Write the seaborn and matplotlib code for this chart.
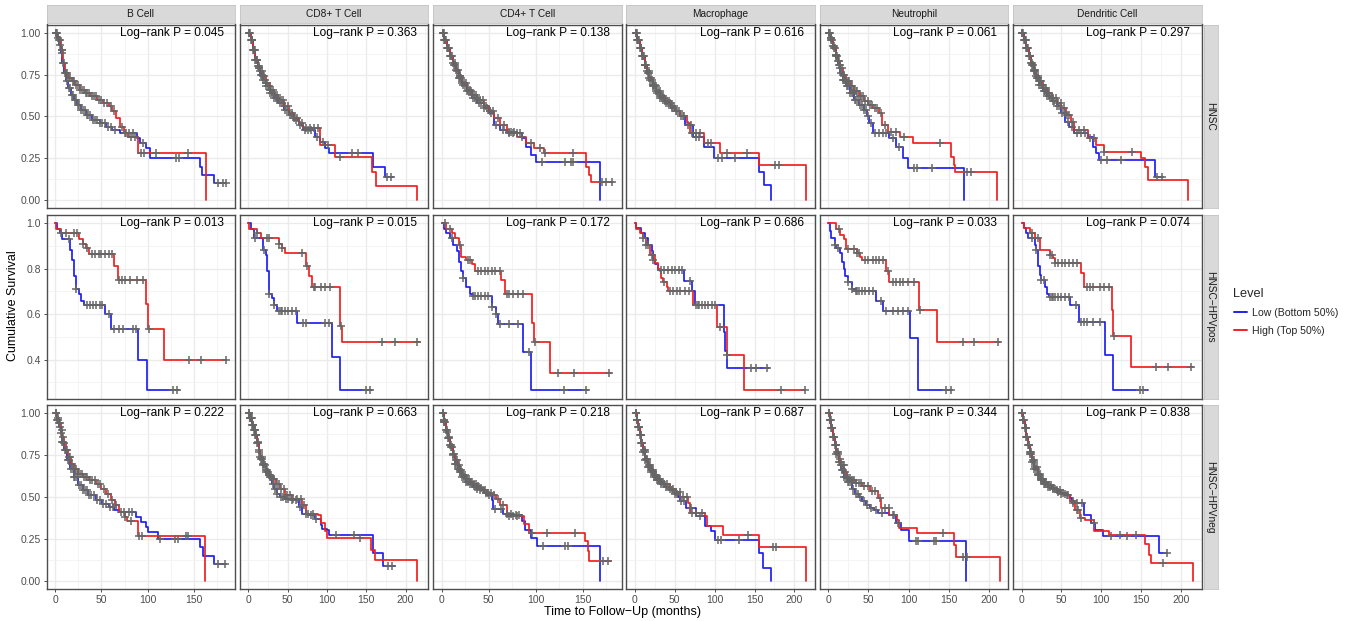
import numpy as np
import pandas as pd
import matplotlib
matplotlib.use("Agg")
import matplotlib.pyplot as plt
from matplotlib.lines import Line2D
import seaborn as sns

# ---------------------------------------------------------------------------
# Facet labels, groups and log-rank p-values
# ---------------------------------------------------------------------------
COHORTS = ["HNSC", "HNSC\u2212HPVpos", "HNSC\u2212HPVneg"]
CELL_TYPES = ["B Cell", "CD8+ T Cell", "CD4+ T Cell", "Macrophage", "Neutrophil", "Dendritic Cell"]
LEVELS = ["Low (Bottom 50%)", "High (Top 50%)"]

P_HNSC = [0.045, 0.363, 0.138, 0.616, 0.061, 0.297]
P_HPVPOS = [0.013, 0.015, 0.172, 0.686, 0.033, 0.074]
P_HPVNEG = [0.222, 0.663, 0.218, 0.687, 0.344, 0.838]

# ---------------------------------------------------------------------------
# Kaplan-Meier step curves: *_T = event times (months), *_S = survival after
# each time, *_C = censoring times
# ---------------------------------------------------------------------------
# ---- HNSC ----
B_HNSC_LOW_T = [0, 2, 4, 6, 8, 10, 12, 14, 17, 20, 24, 28, 33, 40, 48, 55, 62, 70, 88, 92, 98, 103, 156, 159, 172, 185]
B_HNSC_LOW_S = [1.0, .97, .93, .88, .82, .76, .71, .67, .63, .60, .57, .54, .51, .48, .46, .44, .42, .40, .37, .34, .31, .25, .20, .15, .10, .10]
B_HNSC_LOW_C = [1, 3, 5, 7, 9, 11, 13, 15, 16, 18, 19, 21, 23, 25, 26, 28, 30, 32, 34, 36, 38, 41, 43, 45, 48, 51, 54, 57, 60, 65, 75, 80, 84, 95, 131, 134, 176, 181, 184]
B_HNSC_HIGH_T = [0, 3, 6, 9, 11, 14, 18, 22, 27, 32, 38, 45, 52, 58, 62, 66, 70, 74, 79, 89, 162.6]
B_HNSC_HIGH_S = [1.0, .96, .90, .82, .76, .73, .71, .69, .66, .64, .62, .60, .58, .56, .53, .49, .44, .40, .38, .28, 0.0]
B_HNSC_HIGH_C = [1, 2, 4, 5, 7, 8, 10, 12, 13, 15, 16, 19, 20, 23, 25, 27, 29, 31, 33, 35, 37, 40, 42, 44, 47, 50, 53, 56, 60, 64, 72, 77, 82, 86, 93, 96, 109, 143]

CD8_HNSC_LOW_T = [0, 3, 6, 9, 12, 15, 18, 22, 27, 32, 38, 45, 52, 58, 64, 70, 85, 91, 98, 103, 159, 174, 184]
CD8_HNSC_LOW_S = [1.0, .96, .90, .84, .79, .75, .72, .68, .64, .61, .58, .54, .51, .48, .45, .42, .38, .35, .31, .28, .20, .14, .14]
CD8_HNSC_LOW_C = [1, 2, 4, 5, 7, 8, 10, 11, 13, 14, 16, 17, 19, 21, 23, 25, 26, 28, 30, 33, 35, 37, 40, 43, 46, 49, 53, 56, 60, 66, 72, 76, 80, 87, 95, 132, 140, 176, 181]
CD8_HNSC_HIGH_T = [0, 3, 6, 9, 12, 15, 18, 22, 27, 32, 38, 45, 52, 58, 64, 70, 91, 110, 157, 162, 215]
CD8_HNSC_HIGH_S = [1.0, .96, .90, .84, .80, .77, .74, .70, .66, .63, .60, .56, .52, .49, .46, .43, .33, .26, .17, .085, 0.0]
CD8_HNSC_HIGH_C = [1, 3, 4, 6, 7, 9, 11, 12, 14, 15, 17, 18, 20, 22, 24, 27, 29, 31, 34, 36, 39, 42, 44, 47, 50, 55, 58, 62, 68, 73, 78, 83, 88, 101, 116]

CD4_HNSC_LOW_T = [0, 3, 6, 9, 12, 15, 18, 22, 27, 32, 38, 45, 50, 56, 62, 69, 85, 90, 95, 100, 168]
CD4_HNSC_LOW_S = [1.0, .96, .91, .86, .81, .77, .73, .69, .65, .61, .58, .55, .52, .45, .42, .40, .37, .32, .27, .23, 0.0]
CD4_HNSC_LOW_C = [1, 2, 4, 5, 7, 8, 10, 11, 13, 14, 16, 18, 19, 21, 23, 25, 27, 29, 31, 33, 35, 37, 40, 42, 45, 48, 52, 58, 65, 72, 76, 80, 83, 107, 131, 137, 140]
CD4_HNSC_HIGH_T = [0, 3, 6, 9, 12, 15, 18, 22, 27, 32, 38, 45, 50, 56, 62, 69, 80, 90, 98, 109, 153, 156, 159, 182]
CD4_HNSC_HIGH_S = [1.0, .96, .91, .86, .82, .78, .74, .70, .66, .63, .60, .56, .53, .49, .45, .41, .38, .34, .31, .28, .20, .15, .11, .11]
CD4_HNSC_HIGH_C = [1, 3, 4, 6, 7, 9, 10, 12, 14, 15, 17, 19, 20, 22, 24, 26, 28, 30, 32, 34, 36, 39, 41, 44, 47, 51, 55, 60, 66, 71, 74, 77, 85, 95, 104, 110, 139, 170, 175, 181]

MAC_HNSC_LOW_T = [0, 3, 6, 9, 12, 15, 18, 22, 27, 32, 38, 45, 50, 57, 63, 73, 86, 99, 156, 162, 171]
MAC_HNSC_LOW_S = [1.0, .96, .91, .86, .81, .76, .72, .68, .64, .61, .58, .55, .53, .50, .45, .38, .32, .25, .166, .092, 0.0]
MAC_HNSC_LOW_C = [1, 2, 4, 5, 7, 8, 10, 11, 13, 14, 16, 17, 19, 21, 22, 24, 26, 28, 30, 32, 34, 36, 39, 41, 44, 47, 51, 55, 60, 67, 70, 76, 80, 104, 109, 125]
MAC_HNSC_HIGH_T = [0, 3, 6, 9, 12, 15, 18, 22, 27, 32, 38, 45, 50, 57, 65, 69, 86, 107, 155, 215]
MAC_HNSC_HIGH_S = [1.0, .96, .91, .86, .81, .77, .73, .69, .65, .62, .59, .56, .53, .50, .46, .40, .34, .28, .21, 0.0]
MAC_HNSC_HIGH_C = [1, 3, 4, 6, 7, 9, 10, 12, 13, 15, 17, 18, 20, 22, 23, 25, 27, 29, 31, 33, 35, 38, 40, 43, 46, 49, 53, 58, 62, 72, 77, 82, 92, 96, 115, 140, 176, 181]

NEU_HNSC_LOW_T = [0, 3, 6, 9, 12, 15, 18, 22, 27, 32, 38, 44, 48, 51, 55, 76, 84, 93, 99, 169]
NEU_HNSC_LOW_S = [1.0, .96, .91, .86, .81, .76, .72, .68, .64, .60, .57, .54, .50, .46, .40, .37, .32, .25, .19, 0.0]
NEU_HNSC_LOW_C = [1, 2, 4, 5, 7, 8, 10, 11, 13, 14, 16, 18, 19, 21, 23, 25, 27, 29, 31, 33, 35, 37, 40, 42, 45, 47, 50, 53, 58, 63, 68, 72, 80, 88, 106, 110, 129]
NEU_HNSC_HIGH_T = [0, 3, 6, 9, 12, 15, 18, 22, 27, 32, 38, 44, 50, 56, 63, 67, 74, 89, 105, 152, 156, 158, 210]
NEU_HNSC_HIGH_S = [1.0, .97, .92, .87, .83, .79, .75, .71, .68, .65, .62, .59, .57, .55, .52, .45, .41, .38, .34, .26, .21, .17, 0.0]
NEU_HNSC_HIGH_C = [1, 3, 4, 6, 7, 9, 10, 12, 13, 15, 17, 18, 20, 22, 24, 26, 28, 30, 32, 34, 36, 39, 41, 43, 46, 49, 52, 54, 58, 61, 66, 71, 78, 84, 94, 139, 172, 178]

DC_HNSC_LOW_T = [0, 3, 6, 9, 12, 15, 18, 22, 27, 32, 38, 44, 50, 55, 60, 66, 83, 89, 93, 97, 167, 178]
DC_HNSC_LOW_S = [1.0, .96, .91, .86, .81, .77, .73, .69, .65, .62, .59, .56, .52, .47, .44, .40, .38, .32, .28, .24, .14, .14]
DC_HNSC_LOW_C = [1, 2, 4, 5, 7, 8, 10, 11, 13, 14, 16, 17, 19, 21, 22, 24, 26, 28, 30, 32, 34, 36, 39, 41, 44, 47, 51, 54, 58, 63, 70, 75, 80, 100, 107, 125, 170, 176]
DC_HNSC_HIGH_T = [0, 3, 6, 9, 12, 15, 18, 22, 27, 32, 38, 44, 50, 56, 62, 66, 83, 93, 104, 150, 155, 159, 209]
DC_HNSC_HIGH_S = [1.0, .96, .91, .86, .82, .78, .74, .71, .67, .64, .61, .58, .55, .51, .47, .42, .37, .33, .29, .25, .20, .12, 0.0]
DC_HNSC_HIGH_C = [1, 3, 4, 6, 7, 9, 10, 12, 13, 15, 17, 18, 20, 22, 23, 25, 27, 29, 31, 33, 35, 38, 40, 43, 46, 49, 53, 57, 60, 64, 72, 78, 86, 91, 104, 138]

# ---- HNSC-HPVpos ----
B_POS_LOW_T = [0, 2.5, 5, 8, 16, 18, 20.5, 22.5, 26, 28, 31, 54, 60, 90, 99, 134]
B_POS_LOW_S = [1.0, .975, .955, .93, .88, .84, .77, .71, .69, .66, .64, .60, .535, .40, .265, .265]
B_POS_LOW_C = [15, 22.5, 35, 38, 41, 44, 48, 51, 58, 64, 69, 73, 84, 87, 127, 132]
B_POS_HIGH_T = [0, 1, 6, 26, 30, 33, 37, 64, 68, 98, 100, 118, 185]
B_POS_HIGH_S = [1.0, .975, .955, .93, .91, .89, .865, .81, .75, .645, .535, .40, .40]
B_POS_HIGH_C = [6, 11.5, 20.5, 24, 30, 35, 40, 43, 47, 50, 54, 58, 62, 69, 72, 76, 81, 88, 95, 101, 145, 158, 184]

CD8_POS_LOW_T = [0, 3, 7, 18, 22, 24, 26, 30, 32, 37, 62, 106, 117, 157]
CD8_POS_LOW_S = [1.0, .975, .934, .88, .86, .79, .69, .67, .64, .616, .56, .414, .268, .268]
CD8_POS_LOW_C = [9, 20, 26, 32, 39, 41, 43, 47, 51, 55, 60, 70, 73, 98, 102, 150, 155]
CD8_POS_HIGH_T = [0, 1, 11, 16, 39, 43, 47, 73, 77, 81, 117, 119, 218]
CD8_POS_HIGH_S = [1.0, .975, .956, .934, .91, .89, .87, .81, .77, .72, .55, .477, .477]
CD8_POS_HIGH_C = [11, 24, 26, 39, 43, 68, 75, 83, 85, 92, 98, 104, 118, 170, 186, 214]

CD4_POS_LOW_T = [0, 2, 5, 9, 12, 16, 18, 21, 23, 26, 30, 33, 53, 58, 60, 86, 95, 155]
CD4_POS_LOW_S = [1.0, .975, .956, .934, .905, .876, .83, .79, .76, .72, .69, .68, .63, .60, .556, .436, .265, .265]
CD4_POS_LOW_C = [11, 23, 33, 35, 39, 42, 46, 49, 53, 58, 62, 72, 81, 93, 130, 153]
CD4_POS_HIGH_T = [0, 5, 11, 14, 18, 21, 26, 32, 35, 63, 67, 96, 98, 115, 180]
CD4_POS_HIGH_S = [1.0, .975, .956, .934, .905, .85, .84, .82, .79, .75, .69, .56, .477, .341, .341]
CD4_POS_HIGH_C = [4, 9, 19, 28, 30, 39, 42, 46, 49, 53, 57, 62, 69, 72, 76, 81, 86, 99, 124, 141, 178]

MAC_POS_LOW_T = [0, 1, 8, 12, 16, 21, 23, 25, 29, 61, 71, 75, 112, 113, 115, 168]
MAC_POS_LOW_S = [1.0, .98, .956, .934, .905, .876, .84, .82, .795, .745, .70, .641, .52, .44, .363, .363]
MAC_POS_LOW_C = [16, 23, 33, 37, 42, 46, 50, 55, 59, 69, 79, 145, 152, 166]
MAC_POS_HIGH_T = [0, 1, 6, 10, 14, 19, 25, 29, 31, 33, 35, 40, 42, 73, 103, 116, 137, 213]
MAC_POS_HIGH_S = [1.0, .975, .956, .934, .905, .86, .825, .80, .79, .76, .74, .72, .70, .641, .545, .42, .265, .265]
MAC_POS_HIGH_C = [10, 14, 21, 37, 44, 48, 53, 57, 63, 68, 76, 80, 84, 88, 92, 97, 101, 107, 116, 183, 213]

NEU_POS_LOW_T = [0, 2, 4, 8, 10, 15, 17, 19, 21, 25, 30, 34, 59, 68, 101, 112, 154]
NEU_POS_LOW_S = [1.0, .967, .934, .905, .89, .87, .83, .80, .77, .74, .71, .70, .66, .615, .495, .265, .265]
NEU_POS_LOW_C = [8, 12, 25, 30, 34, 36, 38, 42, 46, 51, 55, 65, 72, 80, 87, 93, 99, 146, 152]
NEU_POS_HIGH_T = [0, 10, 15, 19, 22, 36, 40, 42, 72, 76, 113, 135, 213]
NEU_POS_HIGH_S = [1.0, .975, .95, .93, .886, .87, .85, .84, .79, .74, .62, .477, .477]
NEU_POS_HIGH_C = [13, 25, 32, 36, 38, 46, 50, 55, 59, 63, 68, 74, 80, 84, 89, 93, 99, 106, 114, 167, 181, 211]

DC_POS_LOW_T = [0, 3, 5, 8, 17, 18, 20, 21, 23, 25, 30, 32, 34, 61, 72, 105, 115, 158]
DC_POS_LOW_S = [1.0, .978, .956, .934, .905, .883, .846, .81, .773, .75, .72, .69, .674, .64, .565, .419, .268, .268]
DC_POS_LOW_C = [13, 18, 25, 28, 36, 38, 40, 42, 46, 50, 55, 59, 68, 74, 78, 82, 89, 99, 148, 152]
DC_POS_HIGH_T = [0, 3, 11, 17, 23, 36, 40, 42, 74, 78, 113, 115, 137, 215]
DC_POS_HIGH_S = [1.0, .978, .956, .934, .883, .86, .846, .824, .78, .72, .62, .505, .37, .37]
DC_POS_HIGH_C = [13, 21, 36, 38, 42, 46, 51, 55, 59, 65, 70, 82, 86, 90, 99, 103, 110, 116, 169, 184, 213]

# ---- HNSC-HPVneg ----
B_NEG_LOW_T = [0, 2, 4, 6, 8, 10, 13, 16, 20, 25, 30, 36, 44, 51, 58, 64, 69, 87, 93, 98, 100, 111, 156, 160, 172, 185]
B_NEG_LOW_S = [1.0, .96, .92, .88, .83, .78, .72, .67, .62, .57, .54, .51, .48, .46, .44, .42, .41, .38, .35, .32, .29, .25, .20, .15, .10, .10]
B_NEG_LOW_C = [1, 2, 3, 5, 6, 8, 9, 11, 12, 14, 15, 17, 19, 20, 22, 24, 26, 28, 30, 32, 34, 37, 39, 42, 45, 48, 52, 55, 59, 63, 74, 80, 83, 113, 130, 133, 176, 183]
B_NEG_HIGH_T = [0, 2, 4, 6, 8, 10, 12, 14, 17, 20, 25, 30, 37, 44, 50, 55, 60, 65, 69, 75, 78, 90, 162]
B_NEG_HIGH_S = [1.0, .97, .94, .90, .86, .82, .78, .74, .70, .67, .64, .62, .60, .58, .55, .52, .48, .45, .41, .38, .355, .265, 0.0]
B_NEG_HIGH_C = [1, 3, 4, 5, 7, 9, 10, 12, 13, 15, 16, 18, 21, 23, 25, 27, 29, 31, 33, 35, 38, 40, 43, 46, 49, 53, 57, 61, 66, 71, 76, 82, 91, 94, 141, 143]

CD8_NEG_LOW_T = [0, 2, 5, 7, 9, 11, 13, 15, 18, 22, 26, 30, 33, 36, 40, 47, 54, 64, 68, 77, 85, 92, 94, 100, 102, 159, 171, 186]
CD8_NEG_LOW_S = [1.0, .97, .93, .90, .87, .82, .77, .73, .69, .65, .62, .58, .55, .52, .50, .49, .48, .44, .40, .39, .37, .33, .31, .30, .27, .165, .086, .086]
CD8_NEG_LOW_C = [1, 2, 3, 4, 6, 7, 8, 10, 11, 12, 14, 16, 17, 19, 21, 23, 25, 27, 29, 31, 34, 37, 41, 44, 48, 51, 56, 60, 66, 73, 80, 86, 112, 135, 177, 183]
CD8_NEG_HIGH_T = [0, 2, 5, 7, 9, 11, 13, 15, 18, 22, 26, 30, 35, 40, 47, 56, 68, 73, 89, 92, 98, 100, 156, 161, 214]
CD8_NEG_HIGH_S = [1.0, .97, .93, .90, .87, .83, .78, .74, .70, .66, .63, .61, .58, .55, .51, .49, .45, .40, .39, .345, .295, .255, .185, .125, 0.0]
CD8_NEG_HIGH_C = [1, 2, 3, 5, 6, 8, 9, 10, 12, 13, 15, 17, 18, 20, 22, 24, 26, 28, 31, 33, 36, 39, 42, 45, 49, 53, 57, 62, 67, 71, 76, 82, 142]

CD4_NEG_LOW_T = [0, 2, 5, 7, 9, 12, 14, 17, 19, 22, 26, 30, 33, 37, 41, 45, 48, 53, 55, 65, 76, 85, 88, 95, 101, 168]
CD4_NEG_LOW_S = [1.0, .95, .89, .85, .80, .75, .70, .67, .65, .62, .59, .575, .56, .55, .54, .525, .51, .48, .43, .40, .39, .355, .305, .255, .205, 0.0]
CD4_NEG_LOW_C = [1, 2, 3, 4, 6, 7, 8, 10, 11, 12, 14, 15, 17, 18, 20, 22, 24, 26, 28, 30, 32, 35, 38, 41, 44, 47, 50, 57, 63, 69, 74, 79, 82, 108, 131, 134]
CD4_NEG_HIGH_T = [0, 2, 5, 7, 9, 12, 14, 17, 19, 22, 26, 30, 33, 37, 41, 45, 48, 53, 58, 62, 69, 87, 93, 152, 155, 157, 180]
CD4_NEG_HIGH_S = [1.0, .96, .90, .86, .81, .76, .72, .69, .66, .63, .61, .59, .575, .565, .555, .54, .525, .51, .49, .45, .385, .34, .285, .235, .175, .115, .115]
CD4_NEG_HIGH_C = [1, 2, 3, 5, 6, 8, 9, 10, 12, 13, 15, 16, 18, 20, 21, 23, 25, 27, 29, 31, 34, 36, 39, 42, 46, 49, 52, 56, 60, 65, 71, 76, 80, 96, 112, 142, 171, 177]

MAC_NEG_LOW_T = [0, 2, 4, 6, 8, 10, 13, 16, 20, 24, 28, 32, 38, 44, 50, 54, 57, 64, 76, 88, 95, 100, 156, 161, 171]
MAC_NEG_LOW_S = [1.0, .96, .92, .87, .82, .77, .72, .68, .65, .62, .60, .58, .56, .54, .52, .50, .475, .435, .385, .325, .295, .245, .166, .076, 0.0]
MAC_NEG_LOW_C = [1, 2, 3, 5, 6, 7, 9, 10, 12, 13, 15, 16, 18, 20, 22, 24, 26, 28, 30, 33, 36, 39, 42, 46, 50, 53, 58, 62, 70, 82, 104, 108, 130]
MAC_NEG_HIGH_T = [0, 2, 4, 6, 8, 10, 13, 16, 20, 24, 28, 32, 37, 44, 50, 57, 66, 69, 88, 91, 110, 156, 214]
MAC_NEG_HIGH_S = [1.0, .96, .92, .87, .82, .78, .73, .69, .66, .63, .61, .59, .575, .55, .53, .50, .465, .405, .385, .325, .275, .20, 0.0]
MAC_NEG_HIGH_C = [1, 3, 4, 5, 7, 8, 9, 11, 12, 14, 15, 17, 19, 21, 23, 25, 27, 29, 31, 34, 37, 40, 44, 48, 52, 56, 60, 65, 72, 77, 84, 142, 173, 177]

NEU_NEG_LOW_T = [0, 2, 4, 6, 8, 10, 13, 16, 20, 24, 29, 33, 38, 42, 47, 52, 57, 62, 76, 84, 91, 100, 171]
NEU_NEG_LOW_S = [1.0, .96, .91, .86, .81, .76, .71, .66, .62, .59, .55, .515, .50, .475, .455, .435, .42, .405, .395, .345, .305, .235, 0.0]
NEU_NEG_LOW_C = [1, 2, 3, 5, 6, 7, 9, 10, 12, 13, 15, 17, 18, 20, 22, 24, 26, 28, 31, 34, 37, 40, 44, 48, 53, 59, 67, 80, 87, 109, 112, 131, 134]
NEU_NEG_HIGH_T = [0, 2, 4, 6, 8, 10, 13, 16, 20, 23, 28, 34, 42, 52, 62, 66, 76, 86, 88, 110, 156, 159, 213]
NEU_NEG_HIGH_S = [1.0, .96, .91, .86, .81, .77, .73, .69, .65, .615, .60, .585, .565, .535, .495, .435, .395, .365, .315, .285, .215, .14, 0.0]
NEU_NEG_HIGH_C = [1, 2, 4, 5, 7, 8, 9, 11, 12, 14, 16, 18, 19, 21, 23, 25, 27, 29, 32, 35, 38, 41, 45, 49, 54, 58, 64, 70, 75, 82, 143, 167, 172]

DC_NEG_LOW_T = [0, 2, 4, 6, 8, 10, 13, 16, 20, 24, 28, 33, 38, 44, 50, 55, 61, 63, 78, 87, 92, 102, 172, 182]
DC_NEG_LOW_S = [1.0, .96, .91, .86, .81, .76, .71, .67, .63, .60, .58, .56, .545, .53, .52, .51, .495, .465, .395, .345, .305, .265, .165, .165]
DC_NEG_LOW_C = [1, 2, 3, 5, 6, 7, 9, 10, 12, 13, 15, 16, 18, 20, 22, 24, 26, 28, 30, 33, 36, 39, 42, 46, 50, 54, 58, 65, 70, 76, 91, 112, 132, 182]
DC_NEG_HIGH_T = [0, 2, 4, 6, 8, 10, 13, 16, 20, 24, 28, 33, 38, 44, 50, 55, 61, 67, 73, 80, 91, 110, 155, 160, 163, 215]
DC_NEG_HIGH_S = [1.0, .96, .91, .86, .81, .77, .72, .68, .64, .61, .59, .57, .555, .54, .525, .51, .475, .42, .375, .365, .295, .27, .22, .155, .105, 0.0]
DC_NEG_HIGH_C = [1, 2, 4, 5, 7, 8, 9, 11, 12, 14, 15, 17, 19, 21, 23, 25, 27, 29, 31, 34, 37, 40, 44, 48, 52, 57, 64, 69, 71, 74, 124, 143, 178]

PANELS = [
    [(B_HNSC_LOW_T, B_HNSC_LOW_S, B_HNSC_LOW_C, B_HNSC_HIGH_T, B_HNSC_HIGH_S, B_HNSC_HIGH_C),
     (CD8_HNSC_LOW_T, CD8_HNSC_LOW_S, CD8_HNSC_LOW_C, CD8_HNSC_HIGH_T, CD8_HNSC_HIGH_S, CD8_HNSC_HIGH_C),
     (CD4_HNSC_LOW_T, CD4_HNSC_LOW_S, CD4_HNSC_LOW_C, CD4_HNSC_HIGH_T, CD4_HNSC_HIGH_S, CD4_HNSC_HIGH_C),
     (MAC_HNSC_LOW_T, MAC_HNSC_LOW_S, MAC_HNSC_LOW_C, MAC_HNSC_HIGH_T, MAC_HNSC_HIGH_S, MAC_HNSC_HIGH_C),
     (NEU_HNSC_LOW_T, NEU_HNSC_LOW_S, NEU_HNSC_LOW_C, NEU_HNSC_HIGH_T, NEU_HNSC_HIGH_S, NEU_HNSC_HIGH_C),
     (DC_HNSC_LOW_T, DC_HNSC_LOW_S, DC_HNSC_LOW_C, DC_HNSC_HIGH_T, DC_HNSC_HIGH_S, DC_HNSC_HIGH_C)],
    [(B_POS_LOW_T, B_POS_LOW_S, B_POS_LOW_C, B_POS_HIGH_T, B_POS_HIGH_S, B_POS_HIGH_C),
     (CD8_POS_LOW_T, CD8_POS_LOW_S, CD8_POS_LOW_C, CD8_POS_HIGH_T, CD8_POS_HIGH_S, CD8_POS_HIGH_C),
     (CD4_POS_LOW_T, CD4_POS_LOW_S, CD4_POS_LOW_C, CD4_POS_HIGH_T, CD4_POS_HIGH_S, CD4_POS_HIGH_C),
     (MAC_POS_LOW_T, MAC_POS_LOW_S, MAC_POS_LOW_C, MAC_POS_HIGH_T, MAC_POS_HIGH_S, MAC_POS_HIGH_C),
     (NEU_POS_LOW_T, NEU_POS_LOW_S, NEU_POS_LOW_C, NEU_POS_HIGH_T, NEU_POS_HIGH_S, NEU_POS_HIGH_C),
     (DC_POS_LOW_T, DC_POS_LOW_S, DC_POS_LOW_C, DC_POS_HIGH_T, DC_POS_HIGH_S, DC_POS_HIGH_C)],
    [(B_NEG_LOW_T, B_NEG_LOW_S, B_NEG_LOW_C, B_NEG_HIGH_T, B_NEG_HIGH_S, B_NEG_HIGH_C),
     (CD8_NEG_LOW_T, CD8_NEG_LOW_S, CD8_NEG_LOW_C, CD8_NEG_HIGH_T, CD8_NEG_HIGH_S, CD8_NEG_HIGH_C),
     (CD4_NEG_LOW_T, CD4_NEG_LOW_S, CD4_NEG_LOW_C, CD4_NEG_HIGH_T, CD4_NEG_HIGH_S, CD4_NEG_HIGH_C),
     (MAC_NEG_LOW_T, MAC_NEG_LOW_S, MAC_NEG_LOW_C, MAC_NEG_HIGH_T, MAC_NEG_HIGH_S, MAC_NEG_HIGH_C),
     (NEU_NEG_LOW_T, NEU_NEG_LOW_S, NEU_NEG_LOW_C, NEU_NEG_HIGH_T, NEU_NEG_HIGH_S, NEU_NEG_HIGH_C),
     (DC_NEG_LOW_T, DC_NEG_LOW_S, DC_NEG_LOW_C, DC_NEG_HIGH_T, DC_NEG_HIGH_S, DC_NEG_HIGH_C)],
]
P_VALUES = [P_HNSC, P_HPVPOS, P_HPVNEG]

# ---------------------------------------------------------------------------
# Style
# ---------------------------------------------------------------------------
sns.set_theme(style="white")
plt.rcParams["font.family"] = ["Liberation Sans", "DejaVu Sans"]

LEVEL_COLORS = {LEVELS[0]: "#1F1FF2", LEVELS[1]: "#F21F1F"}
CENSOR_COLOR = "#666666"
GRID_COLOR = "#EBEBEB"
BORDER_COLOR = "#4D4D4D"
STRIP_COLOR = "#D9D9D9"
TICK_TEXT = "#4D4D4D"

W, H = 1353, 621
fig = plt.figure(figsize=(W / 100, H / 100), dpi=100)


def frac_box(x0, y0, w, h):
    """Pixel box (top-left origin) -> figure fraction rect."""
    return [x0 / W, 1 - (y0 + h) / H, w / W, h / H]


COL_LEFT = [46.5, 239.8, 433.1, 626.4, 819.7, 1013.0]
COL_W = 188.5
ROW_TOP = [24.5, 214.8, 405]
ROW_H = 184


def step_value(times, surv, t):
    idx = np.searchsorted(np.asarray(times, float), t, side="right") - 1
    return np.asarray(surv, float)[idx]


# per-column x range and per-row y range (ggplot-like 5% expansion)
col_max = []
for c in range(6):
    m = 0
    for r in range(3):
        lt, ls, lc, ht, hs, hc = PANELS[r][c]
        m = max(m, max(lt), max(ht), max(lc), max(hc))
    col_max.append(m)

row_ylim = []
for r in range(3):
    lo = min(min(PANELS[r][c][1] + PANELS[r][c][4]) for c in range(6))
    span = 1.0 - lo
    row_ylim.append((lo - 0.05 * span, 1.0 + 0.05 * span))

for r in range(3):
    for c in range(6):
        ax = fig.add_axes(frac_box(COL_LEFT[c], ROW_TOP[r], COL_W, ROW_H))
        lt, ls, lc, ht, hs, hc = PANELS[r][c]

        curves = pd.concat([
            pd.DataFrame({"time": lt, "survival": ls, "Level": LEVELS[0]}),
            pd.DataFrame({"time": ht, "survival": hs, "Level": LEVELS[1]}),
        ], ignore_index=True)
        censored = pd.concat([
            pd.DataFrame({"time": lc, "survival": step_value(lt, ls, lc), "Level": LEVELS[0]}),
            pd.DataFrame({"time": hc, "survival": step_value(ht, hs, hc), "Level": LEVELS[1]}),
        ], ignore_index=True)

        sns.lineplot(data=curves, x="time", y="survival", hue="Level", hue_order=LEVELS,
                     palette=LEVEL_COLORS, estimator=None, sort=False, errorbar=None,
                     drawstyle="steps-post", linewidth=1.25, legend=False, ax=ax, zorder=2)
        sns.scatterplot(data=censored, x="time", y="survival", marker="+", color=CENSOR_COLOR,
                        s=38, linewidth=1.1, legend=False, ax=ax, zorder=3)

        xmax = col_max[c]
        ax.set_xlim(-0.05 * xmax, 1.05 * xmax)
        ax.set_ylim(*row_ylim[r])

        xt = [v for v in (0, 50, 100, 150, 200) if v <= 1.05 * xmax]
        xm = [v for v in (25, 75, 125, 175, 225) if v <= 1.05 * xmax]
        ax.set_xticks(xt)
        ax.set_xticks(xm, minor=True)
        if r == 1:
            yt, ym, ylab = [0.4, 0.6, 0.8, 1.0], [0.3, 0.5, 0.7, 0.9], ["0.4", "0.6", "0.8", "1.0"]
        else:
            yt, ym = [0, 0.25, 0.5, 0.75, 1.0], [0.125, 0.375, 0.625, 0.875]
            ylab = ["0.00", "0.25", "0.50", "0.75", "1.00"]
        ax.set_yticks(yt)
        ax.set_yticklabels(ylab)
        ax.set_yticks(ym, minor=True)
        ax.set_xticklabels([str(v) for v in xt])

        ax.grid(True, which="major", color=GRID_COLOR, linewidth=1.0, zorder=0)
        ax.grid(True, which="minor", color="#F2F2F2", linewidth=0.6, zorder=0)
        ax.set_axisbelow(True)
        ax.set_facecolor("white")
        for sp in ax.spines.values():
            sp.set_color(BORDER_COLOR)
            sp.set_linewidth(1.0)
            sp.set_visible(True)

        ax.tick_params(which="minor", length=0)
        ax.tick_params(axis="both", which="major", length=2.5, width=0.6, color="#333333",
                       labelsize=7.5, labelcolor=TICK_TEXT, pad=1.5,
                       bottom=(r == 2), labelbottom=(r == 2),
                       left=(c == 0), labelleft=(c == 0))
        ax.set_xlabel("")
        ax.set_ylabel("")

        ax.text(xmax * 0.985, 1.0, f"Log\u2212rank P = {P_VALUES[r][c]:.3f}", ha="right", va="center",
                fontsize=8.6, color="black", zorder=4)

# facet strips
for c, name in enumerate(CELL_TYPES):
    sax = fig.add_axes(frac_box(COL_LEFT[c], 5, COL_W, 18))
    sax.set_facecolor(STRIP_COLOR)
    sax.set_xticks([]); sax.set_yticks([])
    for sp in sax.spines.values():
        sp.set_color("#C4C4C4"); sp.set_linewidth(0.6)
    sax.text(0.5, 0.5, name, ha="center", va="center", fontsize=7.3, color="#1A1A1A",
             transform=sax.transAxes)

for r, name in enumerate(COHORTS):
    sax = fig.add_axes(frac_box(1203.5, ROW_TOP[r], 14, ROW_H))
    sax.set_facecolor(STRIP_COLOR)
    sax.set_xticks([]); sax.set_yticks([])
    for sp in sax.spines.values():
        sp.set_color("#C4C4C4"); sp.set_linewidth(0.6)
    sax.text(0.5, 0.5, name, ha="center", va="center", rotation=-90, fontsize=7.3,
             color="#1A1A1A", transform=sax.transAxes)

# axis titles
fig.text(13 / W, 1 - 306 / H, "Cumulative Survival", rotation=90, ha="center", va="center",
         fontsize=9, color="black")
fig.text(623 / W, 1 - 612 / H, "Time to Follow\u2212Up (months)", ha="center", va="center",
         fontsize=9, color="black")

# legend
handles = [Line2D([0], [0], color=LEVEL_COLORS[lv], linewidth=1.4) for lv in LEVELS]
leg = fig.legend(handles, LEVELS, title="Level", loc="center left",
                 bbox_to_anchor=(1224 / W, 1 - 312 / H), frameon=False, fontsize=7.6,
                 title_fontsize=9.2, handlelength=1.3, handletextpad=0.5, labelspacing=0.75,
                 alignment="left")

fig.savefig("out.png", dpi=100)
